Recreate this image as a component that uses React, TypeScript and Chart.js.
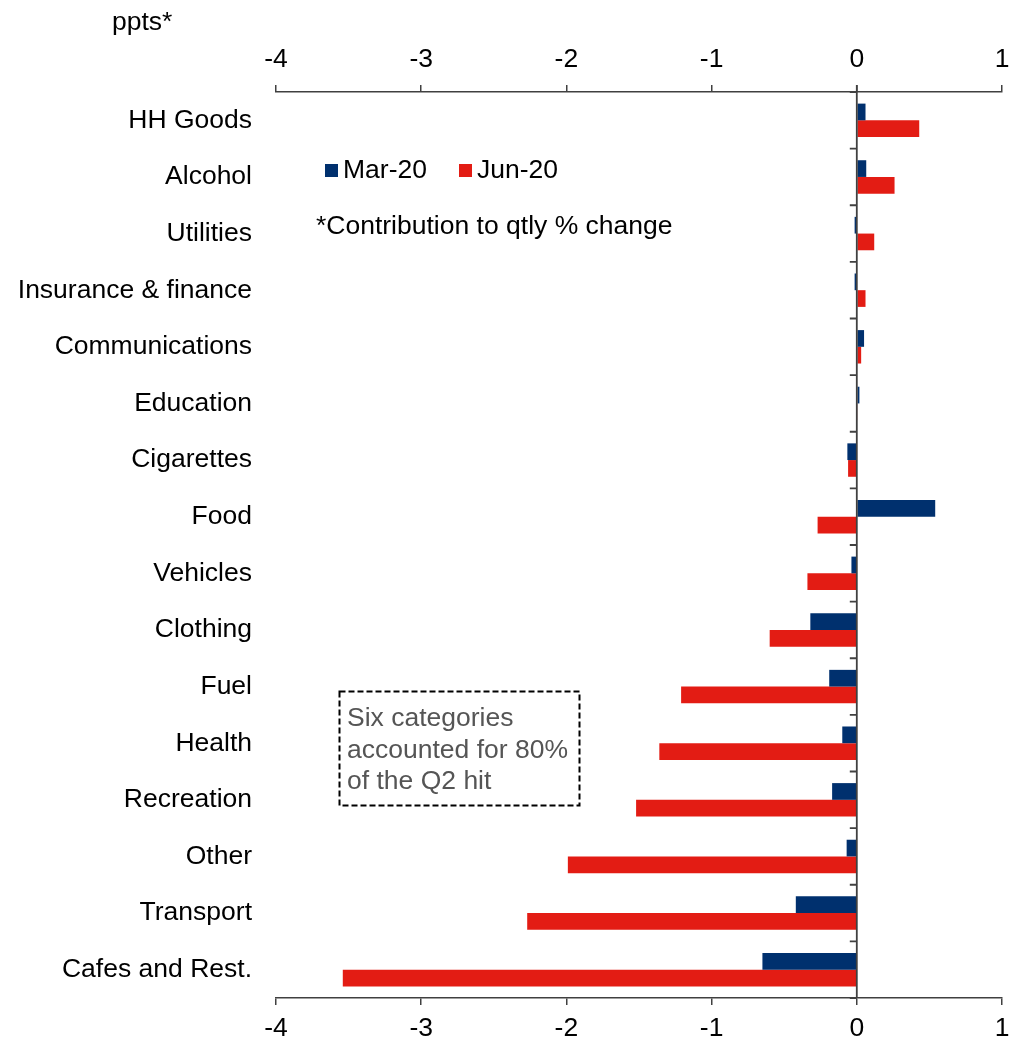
import React, { useEffect, useRef } from "react";
import { Chart, registerables } from "chart.js";

Chart.register(...registerables);

const categories = [
  "HH Goods",
  "Alcohol",
  "Utilities",
  "Insurance & finance",
  "Communications",
  "Education",
  "Cigarettes",
  "Food",
  "Vehicles",
  "Clothing",
  "Fuel",
  "Health",
  "Recreation",
  "Other",
  "Transport",
  "Cafes and Rest.",
];

const mar20 = [0.06, 0.065, -0.015, -0.015, 0.05, 0.018, -0.065, 0.54, -0.037, -0.32, -0.19, -0.1, -0.17, -0.07, -0.42, -0.65];
const jun20 = [0.43, 0.26, 0.12, 0.06, 0.03, 0.006, -0.06, -0.27, -0.34, -0.6, -1.21, -1.36, -1.52, -1.99, -2.27, -3.54];

const xTicks = [-4, -3, -2, -1, 0, 1];
const seriesNames = ["Mar-20", "Jun-20"];
const unitLabel = "ppts*";
const noteText = "*Contribution to qtly % change";
const boxLines = ["Six categories", "accounted for 80%", "of the Q2 hit"];

const NAVY = "#00306e";
const RED = "#e31c14";
const AXIS = "#404040";
const FONT = '"Liberation Sans", Arial, sans-serif';
const FS = 26.5;

const overlayPlugin = {
  id: "overlay",
  afterDatasetsDraw(chart: any) {
    const { ctx, chartArea, scales } = chart;
    const x0 = scales.x.getPixelForValue(0);
    ctx.save();
    ctx.strokeStyle = AXIS;
    ctx.lineWidth = 1.8;
    ctx.beginPath();
    ctx.moveTo(x0, chartArea.top - 7);
    ctx.lineTo(x0, chartArea.bottom);
    const n = categories.length;
    const h = (chartArea.bottom - chartArea.top) / n;
    for (let i = 0; i <= n; i++) {
      const y = chartArea.top + i * h;
      ctx.moveTo(x0 - 7, y);
      ctx.lineTo(x0, y);
    }
    ctx.stroke();

    ctx.fillStyle = "#000";
    ctx.font = `${FS}px ${FONT}`;
    ctx.textBaseline = "middle";
    ctx.textAlign = "left";
    ctx.fillText(unitLabel, 112, 23);

    const ds = chart.data.datasets;
    const legendX = [325, 459];
    ds.forEach((d: any, i: number) => {
      ctx.fillStyle = d.backgroundColor;
      ctx.fillRect(legendX[i], 164, 13, 13);
      ctx.fillStyle = "#000";
      ctx.fillText(d.label, legendX[i] + 18, 171);
    });

    ctx.fillText(noteText, 316, 227);

    ctx.setLineDash([6, 3]);
    ctx.strokeStyle = "#000";
    ctx.lineWidth = 2;
    ctx.strokeRect(339.5, 691.5, 240, 114);
    ctx.setLineDash([]);
    ctx.fillStyle = "#555555";
    boxLines.forEach((t, i) => {
      ctx.fillText(t, 347, 719 + i * 31.5);
    });
    ctx.restore();
  },
};

export default function App() {
  const ref = useRef<HTMLCanvasElement | null>(null);
  useEffect(() => {
    if (!ref.current) return;
    const tickFont = { family: FONT, size: FS };
    const xCommon = (pos: string, height: number, padding: number) => ({
      type: "linear",
      position: pos,
      min: -4,
      max: 1,
      afterBuildTicks: (s: any) => {
        s.ticks = xTicks.map((v) => ({ value: v }));
      },
      afterFit: (s: any) => {
        s.height = height;
        s.paddingLeft = 0;
        s.paddingRight = 0;
      },
      ticks: { font: tickFont, color: "#000", padding, callback: (v: any) => String(v), maxRotation: 0 },
      grid: { drawOnChartArea: false, tickLength: 7, color: AXIS, lineWidth: 1.5 },
      border: { display: true, color: AXIS, width: 1.5 },
    });
    const chart = new Chart(ref.current, {
      type: "bar",
      data: {
        labels: categories,
        datasets: [
          { label: seriesNames[0], data: mar20, backgroundColor: NAVY, categoryPercentage: 0.59, barPercentage: 1 },
          { label: seriesNames[1], data: jun20, backgroundColor: RED, categoryPercentage: 0.59, barPercentage: 1 },
        ],
      },
      options: {
        indexAxis: "y",
        animation: false,
        responsive: false,
        layout: { padding: { left: 0, right: 7, top: 0, bottom: 0 } },
        plugins: { legend: { display: false }, tooltip: { enabled: false } },
        scales: {
          x: xCommon("bottom", 43, 8),
          x2: xCommon("top", 92, 9),
          y: {
            type: "category",
            position: "left",
            afterFit: (s: any) => {
              s.width = 276;
              s.paddingTop = 0;
              s.paddingBottom = 0;
            },
            ticks: { font: tickFont, color: "#000", padding: 24 },
            grid: { display: false, drawTicks: false },
            border: { display: false },
          },
        },
      },
      plugins: [overlayPlugin],
    } as any);
    return () => chart.destroy();
  }, []);
  return (
    <div style={{ position: "absolute", left: 0, top: 0, width: 1009, height: 1041 }}>
      <canvas ref={ref} width={1009} height={1041} style={{ display: "block" }} />
    </div>
  );
}
